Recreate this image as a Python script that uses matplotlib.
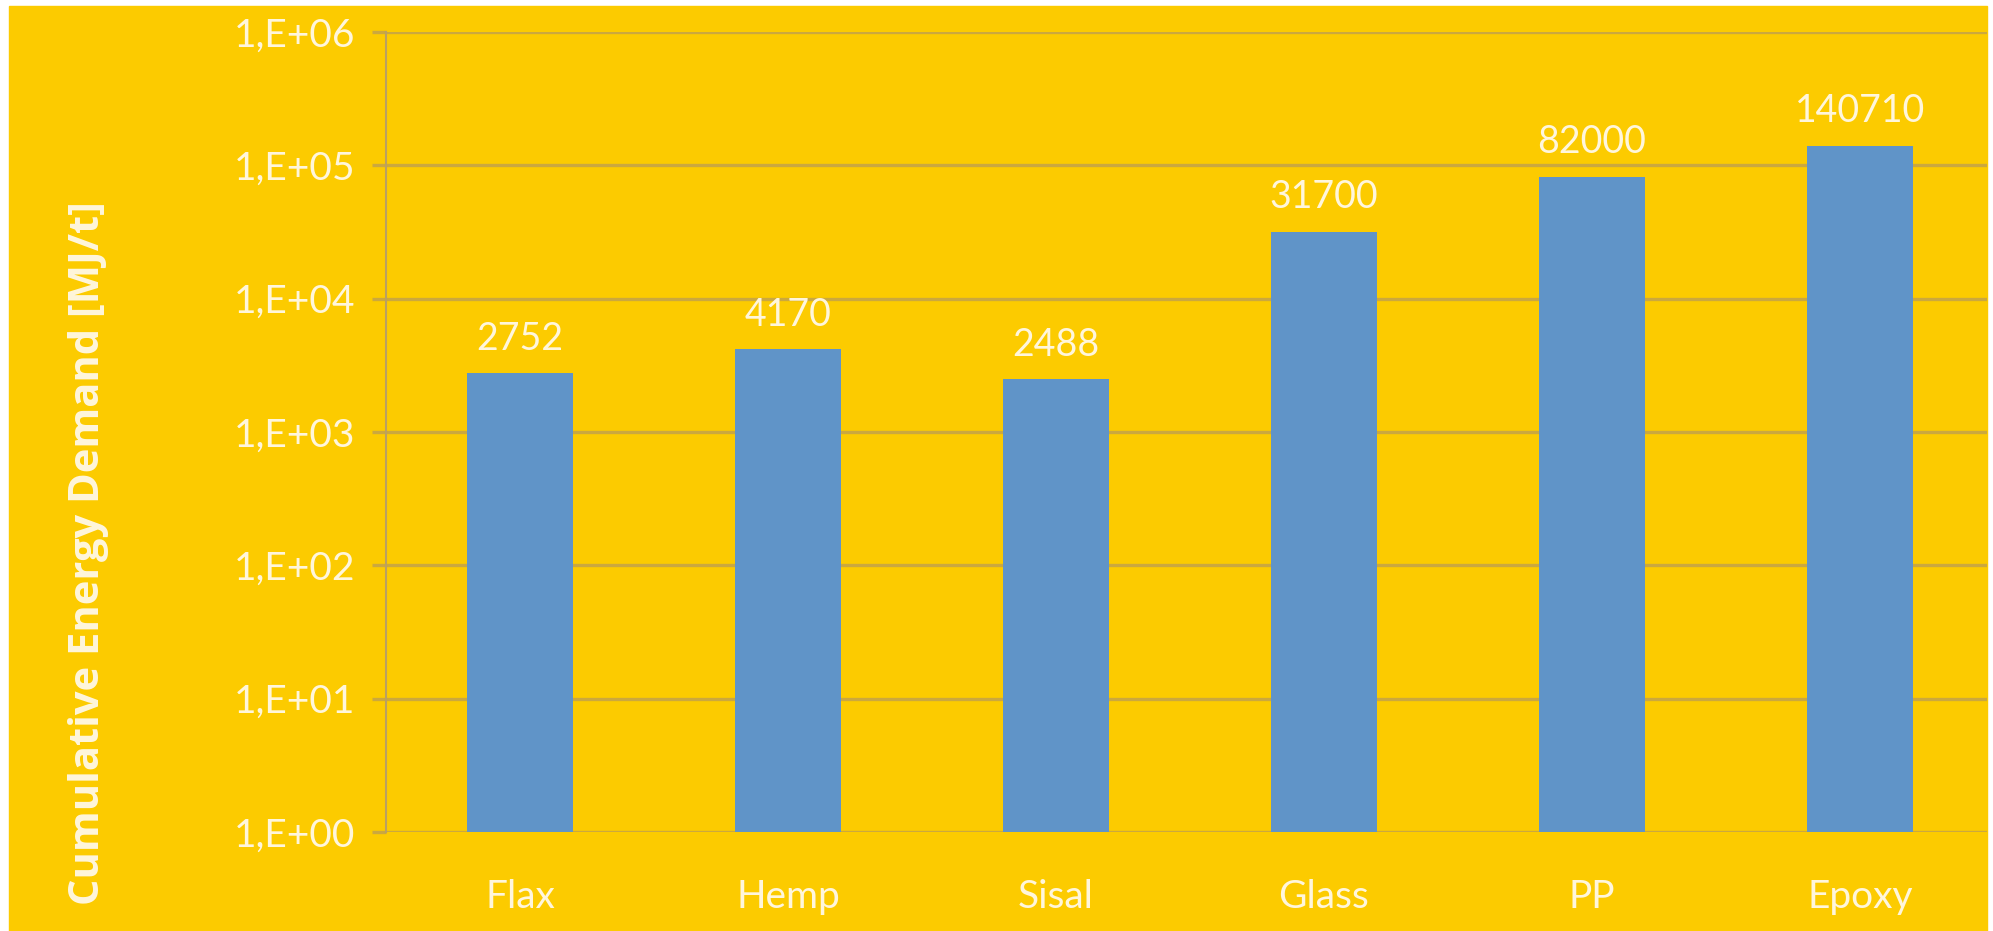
import numpy as np
import matplotlib.pyplot as plt
from matplotlib.ticker import FixedLocator, NullLocator, FuncFormatter

plt.rcParams['font.family'] = ['Lato', 'DejaVu Sans']

# Cumulative energy demand per material
materials = ['Flax', 'Hemp', 'Sisal', 'Glass', 'PP', 'Epoxy']
ced = [2752, 4170, 2488, 31700, 82000, 140710]
decades = [1e0, 1e1, 1e2, 1e3, 1e4, 1e5, 1e6]

W, H = 1993, 931
bg = '#FCCB00'
bar_col = '#6094C8'
grid_col = '#CBA83E'
txt_col = '#FFF6DC'

fig = plt.figure(figsize=(W/100, H/100), dpi=100, facecolor='white')
# yellow panel with a thin white frame around it
fig.patches.append(plt.Rectangle((9/W, 0), (1987-9)/W, (H-6)/H,
                                 transform=fig.transFigure, color=bg, zorder=-5))

left, right, top, bottom = 386, 1987, 32, 832
ax = fig.add_axes([left/W, (H-bottom)/H, (right-left)/W, (bottom-top)/H])
ax.set_facecolor(bg)

x = np.arange(len(materials))
ax.bar(x, ced, width=0.395, color=bar_col, zorder=3)

ax.set_yscale('log')
ax.set_ylim(1, 1e6)
ax.set_xlim(-0.5, 5.5 - (1994-right)/268)
ax.yaxis.set_major_locator(FixedLocator(decades))
ax.yaxis.set_minor_locator(NullLocator())
ax.yaxis.set_major_formatter(FuncFormatter(lambda v, p: '1,E+%02d' % round(np.log10(v))))
ax.grid(axis='y', color=grid_col, linewidth=2.4, zorder=1)
ax.set_axisbelow(True)

for s in ['top', 'right', 'bottom']:
    ax.spines[s].set_visible(False)
ax.spines['left'].set_color('#B9A063')
ax.spines['left'].set_linewidth(1.5)

ax.tick_params(axis='y', length=10, width=2.4, color=grid_col, pad=12,
               labelsize=28, labelcolor=txt_col)
ax.tick_params(axis='x', length=0, pad=34, labelsize=28, labelcolor=txt_col)
ax.set_xticks(x)
ax.set_xticklabels(materials)

for xi, v in zip(x, ced):
    ax.annotate(str(v), (xi, v), xytext=(0, 12), textcoords='offset points',
                ha='center', va='bottom', fontsize=27, color=txt_col)

fig.text(89/W, (H-553)/H, 'Cumulative Energy Demand [MJ/t]', rotation=90,
         ha='center', va='center', fontsize=30, fontweight='bold', color=txt_col,
         family=['Open Sans', 'DejaVu Sans'])

fig.savefig('out.png', dpi=100, facecolor='white')
